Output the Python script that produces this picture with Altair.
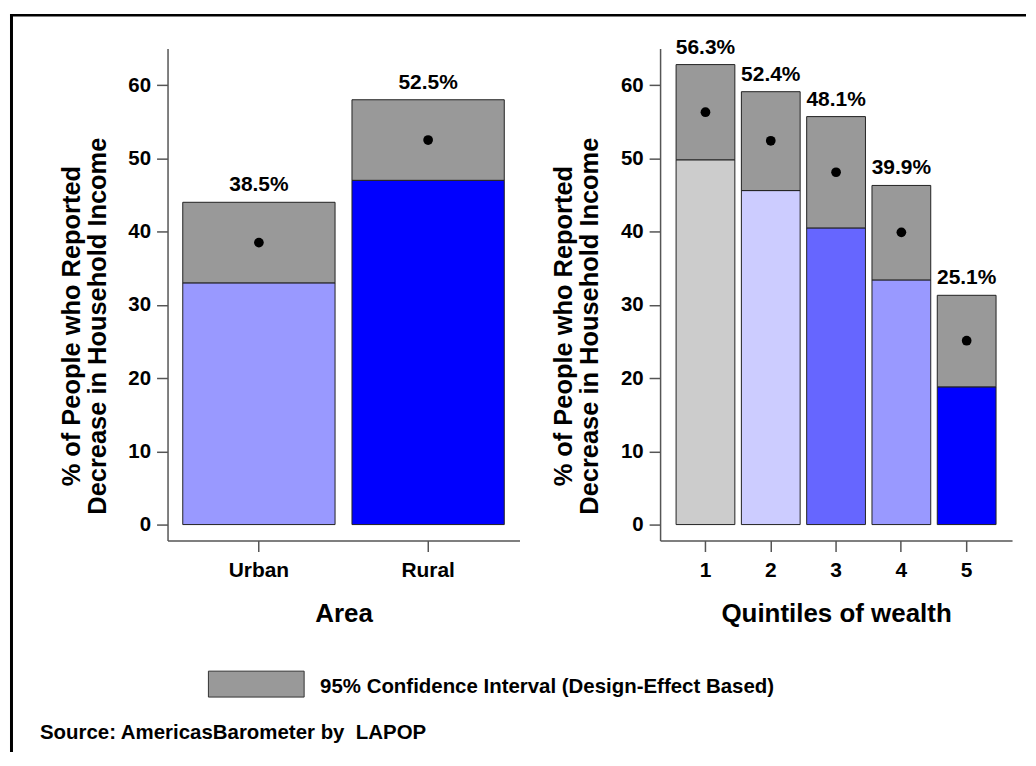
import altair as alt
import pandas as pd

# ---------------- data ----------------
areas = ["Urban", "Rural"]
area_mean = [38.5, 52.5]
area_low = [33.0, 47.0]
area_high = [44.0, 58.0]
area_colors = ["#9999ff", "#0000ff"]

quintiles = ["1", "2", "3", "4", "5"]
q_mean = [56.3, 52.4, 48.1, 39.9, 25.1]
q_low = [49.8, 45.6, 40.5, 33.4, 18.8]
q_high = [62.8, 59.1, 55.7, 46.3, 31.3]
q_colors = ["#cccccc", "#ccccff", "#6666ff", "#9999ff", "#0000ff"]

y_ticks = [0, 10, 20, 30, 40, 50, 60]
y_title = ["% of People who Reported", "Decrease in Household Income"]
legend_text = "95% Confidence Interval (Design-Effect Based)"
source_text = "Source: AmericasBarometer by\u00a0 LAPOP"

CI_COLOR = "#999999"
FONT = "Liberation Sans"

left_df = pd.DataFrame({
    "Area": areas, "mean": area_mean, "low": area_low, "high": area_high,
    "color": area_colors, "zero": 0,
    "label": [f"{v:.1f}%" for v in area_mean],
})
right_df = pd.DataFrame({
    "Quintile": quintiles, "mean": q_mean, "low": q_low, "high": q_high,
    "color": q_colors, "zero": 0,
    "label": [f"{v:.1f}%" for v in q_mean],
})

W, H = 1010, 528
y_scale = alt.Scale(domain=[-2.18, 65], range=[H, 34.5], nice=False, zero=False)


def x_axis(title):
    return alt.Axis(
        orient="bottom", title=title, labelAngle=0, labelFontSize=21,
        labelFontWeight="bold", labelColor="black", labelPadding=8,
        tickSize=11, tickColor="#555555", tickWidth=1.5,
        domainColor="#555555", domainWidth=1.5, grid=False,
        titleFontSize=26, titleFontWeight="bold", titleColor="black",
        titleY=81, titleBaseline="alphabetic",
    )


def y_axis(offset):
    return alt.Axis(
        orient="left", offset=offset, values=y_ticks, title=y_title,
        labelFontSize=20.5, labelFontWeight="bold", labelColor="black",
        labelPadding=6, tickSize=11, tickColor="#555555", tickWidth=1.5,
        domainColor="#555555", domainWidth=1.5, grid=False,
        titleFontSize=25.5, titleFontWeight="bold", titleColor="black",
        titleAngle=270, titleX=-96.5, titleY=312.5, titleAlign="center",
        titleBaseline="middle", titleLineHeight=26,
    )


def panel(df, field, domain, xrange, pin, pout, title, yoffset):
    xenc = alt.X(f"{field}:N", sort=domain,
                 scale=alt.Scale(domain=domain, range=xrange,
                                 paddingInner=pin, paddingOuter=pout),
                 axis=x_axis(title))
    yax = y_axis(yoffset)
    base = alt.Chart(df)
    bars = base.mark_bar(stroke="#222222", strokeWidth=1).encode(
        x=xenc,
        y=alt.Y("low:Q", scale=y_scale, axis=yax),
        y2="zero:Q",
        color=alt.Color("color:N", scale=None),
    )
    ci = base.mark_bar(color=CI_COLOR, stroke="#222222", strokeWidth=1).encode(
        x=xenc,
        y=alt.Y("low:Q", scale=y_scale, axis=yax),
        y2="high:Q",
    )
    dots = base.mark_circle(color="black", size=95, opacity=1).encode(
        x=xenc,
        y=alt.Y("mean:Q", scale=y_scale, axis=yax),
    )
    labels = base.mark_text(font=FONT, fontSize=21, fontWeight="bold",
                            color="black", baseline="alphabetic", dy=-11).encode(
        x=xenc,
        y=alt.Y("high:Q", scale=y_scale, axis=yax),
        text="label:N",
    )
    return alt.layer(bars, ci, dots, labels)


left = panel(left_df, "Area", areas, [158, 511], 0.1, 0.09, "Area", -158)
right = panel(right_df, "Quintile", quintiles, [652, 1005], 0.1, 0.245,
              "Quintiles of wealth", -652)

one = pd.DataFrame({"legend": [legend_text], "source": [source_text]})
frame_left = alt.Chart(one).mark_rule(color="black", strokeWidth=3).encode(
    x=alt.value(1.5), y=alt.value(0), y2=alt.value(740))
frame_top = alt.Chart(one).mark_rule(color="black", strokeWidth=2.5).encode(
    x=alt.value(0), x2=alt.value(1019), y=alt.value(1.2))
leg_box = alt.Chart(one).mark_rect(color=CI_COLOR, stroke="#333333", strokeWidth=1).encode(
    x=alt.value(199), x2=alt.value(295), y=alt.value(659), y2=alt.value(685))
leg_txt = alt.Chart(one).mark_text(font=FONT, fontSize=20.5, fontWeight="bold",
                                   color="black", align="left",
                                   baseline="alphabetic").encode(
    x=alt.value(311), y=alt.value(681), text="legend:N")
src_txt = alt.Chart(one).mark_text(font=FONT, fontSize=20.5, fontWeight="bold",
                                   color="black", align="left",
                                   baseline="alphabetic").encode(
    x=alt.value(30), y=alt.value(727), text="source:N")

chart = alt.layer(
    left, right, frame_left, frame_top, leg_box, leg_txt, src_txt
).resolve_scale(
    x="independent", y="independent"
).properties(
    width=W, height=H,
    padding={"left": 0, "top": 3, "right": 0, "bottom": 0},
    background="white",
).configure(
    font=FONT
).configure_view(
    stroke=None
)

chart.save("out.html", embed_options={"renderer": "svg", "actions": False})
